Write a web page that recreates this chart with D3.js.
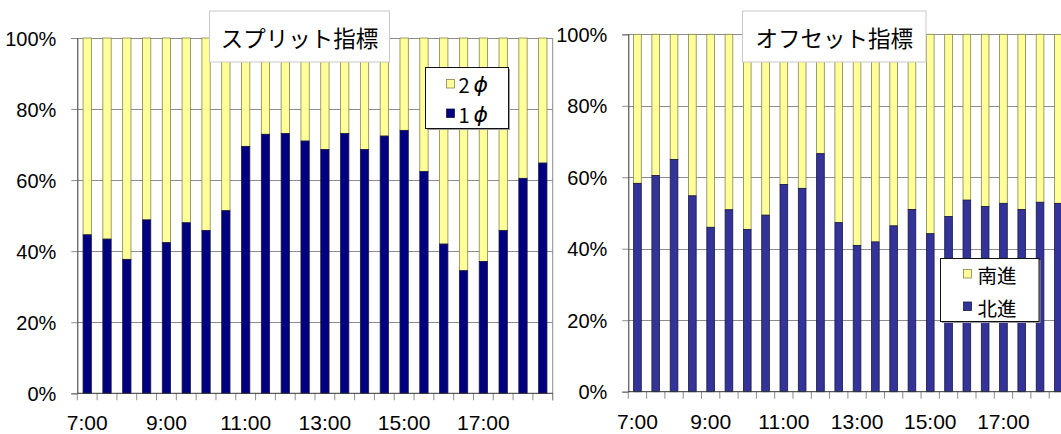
<!DOCTYPE html>
<html>
<head>
<meta charset="utf-8">
<script src="https://cdn.jsdelivr.net/npm/d3@7/dist/d3.min.js"></script>
<style>
  html, body { margin: 0; padding: 0; background: #fff; }
  svg { display: block; }
</style>
</head>
<body>
<svg id="chart" width="1061" height="434"></svg>
<script>
// Half-hour time slots, 7:00 – 18:30
const timeSlots = ["7:00","7:30","8:00","8:30","9:00","9:30","10:00","10:30",
  "11:00","11:30","12:00","12:30","13:00","13:30","14:00","14:30",
  "15:00","15:30","16:00","16:30","17:00","17:30","18:00","18:30"];
const shownTimeLabels = ["7:00","9:00","11:00","13:00","15:00","17:00"];
const percentTicks = [0, 0.2, 0.4, 0.6, 0.8, 1.0];

// Split index: share of phase 1 (remainder is phase 2)
const splitPhase1 = [0.446,0.434,0.377,0.488,0.424,0.480,0.458,0.514,
  0.695,0.729,0.731,0.710,0.686,0.731,0.686,0.724,
  0.740,0.624,0.420,0.345,0.371,0.458,0.605,0.648];
// Offset index: share of northbound (remainder is southbound)
const offsetNorth = [0.583,0.605,0.650,0.548,0.460,0.509,0.454,0.494,
  0.580,0.569,0.666,0.473,0.409,0.419,0.464,0.510,
  0.442,0.490,0.536,0.518,0.527,0.510,0.530,0.527];

const splitTitle = "スプリット指標";
const offsetTitle = "オフセット指標";
// legend entries: [prefix, symbol]
const splitLegend = [["2", "ϕ"], ["1", "ϕ"]];
const offsetLegend = [["南進", ""], ["北進", ""]];

const svg = d3.select("#chart");
const fmtPct = d3.format(".0%");

function drawPanel(cfg) {
  const g = svg.append("g");
  const x = d3.scaleBand().domain(timeSlots)
    .range([cfg.left, cfg.right]).paddingInner(0.58).paddingOuter(0.29);
  const y = d3.scaleLinear().domain([0, 1]).range([cfg.bottom, cfg.top]);
  const step = x.step();
  const visRight = Math.min(cfg.right, 1061);

  // gridlines
  g.append("g").selectAll("line").data(percentTicks.filter(d => d > 0)).join("line")
    .attr("x1", cfg.left).attr("x2", visRight)
    .attr("y1", d => Math.round(y(d)) + 0.5).attr("y2", d => Math.round(y(d)) + 0.5)
    .attr("stroke", "#8c8c8c").attr("stroke-width", 1);
  // right frame of plot area
  g.append("line").attr("x1", cfg.right).attr("x2", cfg.right)
    .attr("y1", cfg.top).attr("y2", cfg.bottom + 7)
    .attr("stroke", "#8c8c8c");

  // stacked bars
  const bars = g.append("g");
  bars.selectAll("rect.upper").data(cfg.values).join("rect")
    .attr("class", "upper")
    .attr("x", (d, i) => x(timeSlots[i])).attr("width", x.bandwidth())
    .attr("y", y(1)).attr("height", d => y(d) - y(1))
    .attr("fill", cfg.upperColor).attr("stroke", "#85854f").attr("stroke-width", 0.8);
  bars.selectAll("rect.lower").data(cfg.values).join("rect")
    .attr("class", "lower")
    .attr("x", (d, i) => x(timeSlots[i])).attr("width", x.bandwidth())
    .attr("y", d => y(d)).attr("height", d => y(0) - y(d))
    .attr("fill", cfg.lowerColor).attr("stroke", "#1a1a40").attr("stroke-width", 0.8);

  // y axis
  const yAxis = d3.axisLeft(y).tickValues(percentTicks).tickFormat(fmtPct)
    .tickSize(6).tickPadding(15);
  const ya = g.append("g").attr("transform", `translate(${cfg.left},0)`).call(yAxis);
  ya.select(".domain").attr("stroke", "#333");
  ya.selectAll(".tick line").attr("stroke", "#8c8c8c");
  ya.selectAll(".tick text").attr("font-family", "Liberation Sans, Arial, sans-serif")
    .attr("font-size", 20).attr("fill", "#000").attr("dy", "0.36em");

  // x axis: labels centred under slots, ticks between slots
  const xAxis = d3.axisBottom(x).tickSize(0).tickPadding(22)
    .tickFormat(d => shownTimeLabels.includes(d) ? d : "");
  const xa = g.append("g").attr("transform", `translate(0,${cfg.bottom})`).call(xAxis);
  xa.select(".domain").remove();
  xa.selectAll(".tick text").attr("font-family", "Liberation Sans, Arial, sans-serif")
    .attr("font-size", 21).attr("fill", "#000");
  const bounds = timeSlots.map(t => x(t) - (step - x.bandwidth()) / 2).concat([cfg.right]);
  g.append("g").selectAll("line").data(bounds).join("line")
    .attr("x1", d => d).attr("x2", d => d)
    .attr("y1", cfg.bottom).attr("y2", cfg.bottom + 7)
    .attr("stroke", "#8c8c8c");
  g.append("line").attr("x1", cfg.left).attr("x2", visRight)
    .attr("y1", cfg.bottom).attr("y2", cfg.bottom).attr("stroke", "#333");

  // title box
  const tb = cfg.titleBox;
  g.append("rect").attr("x", tb.x).attr("y", tb.y).attr("width", tb.w).attr("height", tb.h)
    .attr("fill", "#fff").attr("stroke", "#c8c8c8").attr("stroke-width", 1);
  g.append("text").attr("x", tb.x + tb.w / 2).attr("y", tb.y + tb.h / 2)
    .attr("text-anchor", "middle").attr("dominant-baseline", "central")
    .attr("font-family", "Noto Sans CJK JP, sans-serif").attr("font-size", 22.5)
    .attr("fill", "#000").text(cfg.title);

  // legend
  const lb = cfg.legendBox;
  g.append("rect").attr("x", lb.x + 1.5).attr("y", lb.y + 1.5).attr("width", lb.w).attr("height", lb.h)
    .attr("fill", "#9a9a9a");
  g.append("rect").attr("x", lb.x).attr("y", lb.y).attr("width", lb.w).attr("height", lb.h)
    .attr("fill", "#fff").attr("stroke", "#111").attr("stroke-width", 1);
  const items = [
    { label: cfg.legend[0], color: cfg.upperColor, stroke: "#85854f" },
    { label: cfg.legend[1], color: cfg.lowerColor, stroke: "#1a1a40" }
  ];
  const li = g.append("g").selectAll("g").data(items).join("g")
    .attr("transform", (d, i) => `translate(${lb.x + lb.sx},${lb.y + lb.sy + i * lb.gap})`);
  li.append("rect").attr("x", 0).attr("y", 0).attr("width", 8).attr("height", 8.5)
    .attr("fill", d => d.color).attr("stroke", d => d.stroke).attr("stroke-width", 0.8);
  const lt = li.append("text").attr("x", lb.tx).attr("y", 4.5).attr("dominant-baseline", "central")
    .attr("font-family", "Noto Sans CJK JP, sans-serif").attr("font-size", lb.fs)
    .attr("fill", "#000");
  lt.append("tspan").text(d => d.label[0]);
  lt.append("tspan").attr("dx", 4).attr("font-family", "DejaVu Sans, sans-serif")
    .attr("font-style", "italic").attr("font-size", lb.fs + 2)
    .text(d => d.label[1]);
}

drawPanel({
  left: 77.3, right: 552.7, top: 38, bottom: 393.3,
  values: splitPhase1, upperColor: "#ffff99", lowerColor: "#000080",
  title: splitTitle, titleBox: { x: 209.5, y: 11, w: 180, h: 51 },
  legend: splitLegend,
  legendBox: { x: 425.5, y: 67.5, w: 83, h: 61, sx: 21, sy: 12, gap: 29.5, tx: 12, fs: 20 }
});
drawPanel({
  left: 628.3, right: 1067.5, top: 34.3, bottom: 391.7,
  values: offsetNorth, upperColor: "#ffff99", lowerColor: "#333399",
  title: offsetTitle, titleBox: { x: 742.5, y: 11, w: 183.5, h: 51 },
  legend: offsetLegend,
  legendBox: { x: 940.5, y: 258.5, w: 98.5, h: 63, sx: 23, sy: 11, gap: 32.5, tx: 14, fs: 19.5 }
});
</script>
</body>
</html>
